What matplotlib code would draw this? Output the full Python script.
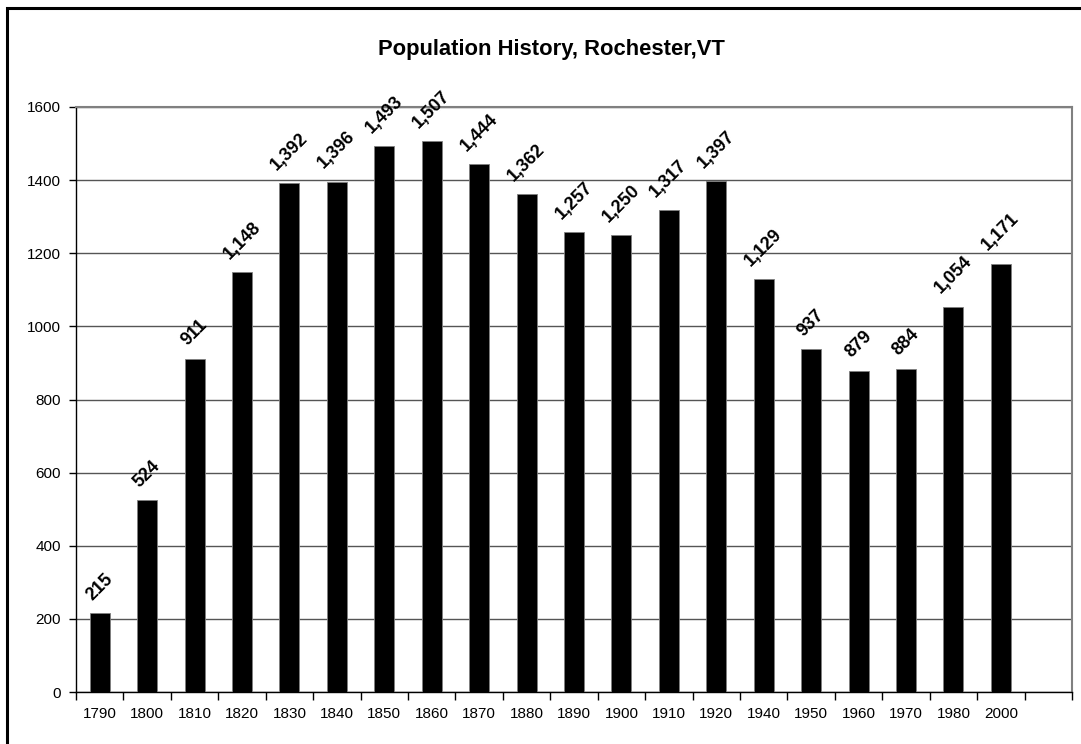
import matplotlib
matplotlib.use("Agg")
import matplotlib.pyplot as plt
from matplotlib.patches import Rectangle
import numpy as np

# ── Data ─────────────────────────────────────────────────────────────────────
years = ["1790", "1800", "1810", "1820", "1830", "1840", "1850", "1860", "1870",
         "1880", "1890", "1900", "1910", "1920", "1940", "1950", "1960", "1970",
         "1980", "2000"]
population = [215, 524, 911, 1148, 1392, 1396, 1493, 1507, 1444, 1362, 1257,
              1250, 1317, 1397, 1129, 937, 879, 884, 1054, 1171]
y_ticks = [0, 200, 400, 600, 800, 1000, 1200, 1400, 1600]

plt.rcParams["font.family"] = ["Liberation Sans", "DejaVu Sans"]

W, H = 1081, 744
fig = plt.figure(figsize=(W / 100, H / 100), dpi=100)
fig.patch.set_facecolor("white")

# outer chart border (extends past right/bottom edges like the original)
fig.add_artist(Rectangle((7.5 / W, -0.5), 2.0, 1.5 - 7.5 / H,
                         transform=fig.transFigure, fill=False,
                         edgecolor="black", linewidth=2.2))

ax = fig.add_axes([76 / W, 52 / H, 996 / W, 585 / H])

n_slots = len(years) + 1          # one empty slot at the right, as in original
x = np.arange(len(years))
ax.bar(x, population, width=0.42, color="black", edgecolor="#808080",
       linewidth=0.6, zorder=3)

for xi, v in zip(x, population):
    ax.annotate(f"{v:,}", (xi, v), xytext=(0, 7), textcoords="offset points",
                ha="center", va="bottom", rotation=45, fontsize=13,
                fontweight="bold")

ax.set_xlim(-0.5, n_slots - 0.5)
ax.set_ylim(0, 1600)
ax.set_yticks(y_ticks)
ax.yaxis.grid(True, color="#555555", linewidth=1.0, zorder=0)

# ticks on category boundaries, labels at centres
ax.set_xticks(np.arange(n_slots + 1) - 0.5)
ax.set_xticklabels([])
ax.set_xticks(x, minor=True)
ax.set_xticklabels(years, minor=True)
ax.tick_params(axis="x", which="major", length=6, width=1, color="black")
ax.tick_params(axis="x", which="minor", length=0, pad=11, labelsize=11)
ax.tick_params(axis="y", length=5, width=1, pad=6, labelsize=11)

for side in ["top", "right"]:
    ax.spines[side].set_color("#808080")
    ax.spines[side].set_linewidth(1.5)
for side in ["left", "bottom"]:
    ax.spines[side].set_color("black")
    ax.spines[side].set_linewidth(1.0)

fig.text(551 / W, 1 - 49 / H, "Population History, Rochester,VT",
         ha="center", va="center", fontsize=15.8, fontweight="bold")

fig.savefig("out.png", dpi=100)
